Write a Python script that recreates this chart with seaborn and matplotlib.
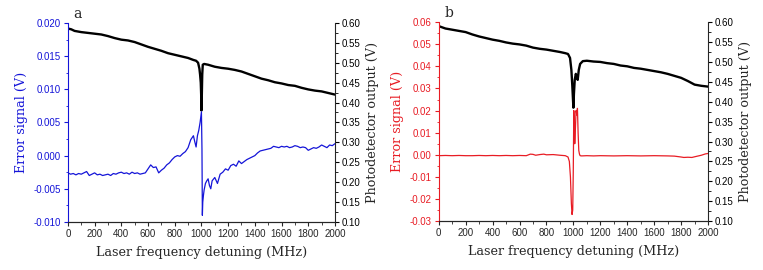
"""
Error signal and photodetector output vs. laser detuning (panels a and b).
"""

import numpy as np
import pandas as pd
import matplotlib
matplotlib.use("Agg")
import matplotlib.pyplot as plt
from matplotlib.ticker import MultipleLocator
import seaborn as sns

# --- panel a: error signal (V) ---
err_a_x = [0, 20, 40, 60, 80, 100, 120, 140, 160, 180, 200, 220, 240, 260, 280,
           300, 320, 340, 360, 380, 400, 420, 440, 460, 480, 500, 520, 540, 560,
           580, 600, 620, 640, 660, 680, 700, 720, 740, 760, 780, 800, 820, 840,
           860, 880, 900, 920, 940, 950, 960, 970, 980, 990, 1000, 1004, 1007,
           1010, 1015, 1020, 1030, 1040, 1050, 1060, 1070, 1080, 1100, 1120, 1140,
           1160, 1180, 1200, 1220, 1240, 1260, 1280, 1300, 1320, 1340, 1360, 1380,
           1400, 1420, 1440, 1460, 1480, 1500, 1520, 1540, 1560, 1580, 1600, 1620,
           1640, 1660, 1680, 1700, 1720, 1740, 1760, 1780, 1800, 1820, 1840, 1860,
           1880, 1900, 1920, 1940, 1960, 1980, 2000]
err_a_y = [-0.0026, -0.0028, -0.0027, -0.0029, -0.0027, -0.0028, -0.0026, -0.0024,
           -0.0030, -0.0028, -0.0026, -0.0029, -0.0028, -0.0030, -0.0029, -0.0028,
           -0.0030, -0.0027, -0.0028, -0.0026, -0.0025, -0.0027, -0.0026, -0.0028,
           -0.0025, -0.0027, -0.0026, -0.0028, -0.0027, -0.0026, -0.0020, -0.0014,
           -0.0018, -0.0017, -0.0026, -0.0022, -0.0019, -0.0014, -0.0011, -0.0006,
           -0.0002, 0.0000, -0.0001, 0.0003, 0.0006, 0.0012, 0.0024, 0.0030,
           0.0021, 0.0013, 0.0030, 0.0038, 0.0050, 0.0066, 0.0010, -0.0090,
           -0.0070, -0.0060, -0.0052, -0.0042, -0.0038, -0.0035, -0.0045, -0.0050,
           -0.0038, -0.0033, -0.0042, -0.0028, -0.0025, -0.0020, -0.0022, -0.0015,
           -0.0013, -0.0016, -0.0008, -0.0012, -0.0009, -0.0006, -0.0004, -0.0002,
           0.0000, 0.0004, 0.0007, 0.0008, 0.0009, 0.0010, 0.0011, 0.0014, 0.0013,
           0.0012, 0.0014, 0.0013, 0.0014, 0.0012, 0.0013, 0.0015, 0.0014, 0.0012,
           0.0013, 0.0012, 0.0008, 0.0010, 0.0012, 0.0011, 0.0013, 0.0016, 0.0014,
           0.0012, 0.0016, 0.0015, 0.0018]

# --- panel a: photodetector output (V) ---
pd_a_x = [0, 25, 50, 100, 150, 200, 250, 300, 350, 400, 450, 500, 550, 600, 650,
          700, 750, 800, 850, 900, 940, 960, 975, 985, 990, 995, 998, 1000, 1003,
          1006, 1010, 1020, 1050, 1100, 1150, 1200, 1250, 1300, 1350, 1400, 1450,
          1500, 1550, 1600, 1650, 1700, 1750, 1800, 1850, 1900, 1950, 2000]
pd_a_y = [0.586, 0.584, 0.580, 0.577, 0.575, 0.573, 0.571, 0.567, 0.562, 0.558,
          0.556, 0.552, 0.546, 0.540, 0.535, 0.530, 0.524, 0.520, 0.516, 0.512,
          0.507, 0.505, 0.500, 0.485, 0.470, 0.450, 0.420, 0.380, 0.420, 0.470,
          0.495, 0.497, 0.495, 0.490, 0.487, 0.485, 0.482, 0.478, 0.472, 0.466,
          0.460, 0.456, 0.451, 0.448, 0.444, 0.442, 0.437, 0.433, 0.430, 0.428,
          0.424, 0.420]

# --- panel b: error signal (V) ---
err_b_x = [0, 50, 100, 150, 200, 250, 300, 350, 400, 450, 500, 550, 600, 650, 680,
           700, 720, 750, 780, 800, 850, 900, 940, 960, 970, 978, 985, 990, 995,
           999, 1003, 1006, 1010, 1015, 1020, 1025, 1030, 1035, 1040, 1045, 1050,
           1060, 1100, 1150, 1200, 1300, 1400, 1500, 1600, 1700, 1750, 1800, 1820,
           1850, 1880, 1900, 1950, 1980, 2000]
err_b_y = [-0.0004, -0.0003, -0.0004, -0.0003, -0.0004, -0.0004, -0.0003, -0.0004,
           -0.0003, -0.0004, -0.0003, -0.0004, -0.0003, -0.0004, 0.0003, 0.0002,
           -0.0002, 0.0001, 0.0003, 0.0000, 0.0001, -0.0002, -0.0004, -0.0010,
           -0.0030, -0.0100, -0.0220, -0.0270, -0.0250, -0.0080, 0.0200, 0.0150,
           0.0050, 0.0120, 0.0200, 0.0180, 0.0210, 0.0100, 0.0020, 0.0003, -0.0004,
           -0.0005, -0.0004, -0.0005, -0.0004, -0.0005, -0.0004, -0.0005, -0.0004,
           -0.0005, -0.0006, -0.0010, -0.0012, -0.0011, -0.0012, -0.0009, -0.0002,
           0.0004, 0.0006]

# --- panel b: photodetector output (V) ---
pd_b_x = [0, 25, 50, 100, 150, 200, 250, 300, 350, 400, 450, 500, 550, 600, 650,
          700, 750, 800, 850, 900, 940, 960, 975, 985, 992, 997, 1000, 1004, 1010,
          1018, 1025, 1032, 1040, 1050, 1070, 1100, 1150, 1200, 1250, 1300, 1350,
          1400, 1450, 1500, 1550, 1600, 1650, 1700, 1750, 1800, 1850, 1900, 1950,
          2000]
pd_b_y = [0.590, 0.587, 0.584, 0.581, 0.578, 0.575, 0.569, 0.564, 0.560, 0.556,
          0.553, 0.549, 0.546, 0.544, 0.541, 0.536, 0.533, 0.531, 0.528, 0.525,
          0.522, 0.520, 0.510, 0.480, 0.440, 0.405, 0.385, 0.420, 0.455, 0.470,
          0.462, 0.455, 0.480, 0.495, 0.502, 0.503, 0.501, 0.500, 0.497, 0.495,
          0.491, 0.489, 0.485, 0.483, 0.480, 0.477, 0.474, 0.470, 0.465, 0.460,
          0.452, 0.443, 0.440, 0.438]

SERIF = "DejaVu Serif"
SANS = "Liberation Sans"
LABEL_SIZE = 9.2


def draw_panel(fig, rect, ex, ey, px, py, color, ylim, ystep, yminor, fmt, letter):
    ax = fig.add_axes(rect)
    ax2 = ax.twinx()

    sns.lineplot(x=px, y=py, ax=ax2, color="black", linewidth=1.7, sort=False)
    sns.lineplot(x=ex, y=ey, ax=ax, color=color, linewidth=0.9, sort=False)
    ax.set_zorder(ax2.get_zorder() + 1)
    ax.patch.set_visible(False)

    ax.set_xlim(0, 2000)
    ax.set_ylim(*ylim)
    ax2.set_ylim(0.10, 0.60)
    ax.xaxis.set_major_locator(MultipleLocator(200))
    ax.xaxis.set_minor_locator(MultipleLocator(100))
    ax.yaxis.set_major_locator(MultipleLocator(ystep))
    ax.yaxis.set_minor_locator(MultipleLocator(yminor))
    ax2.yaxis.set_major_locator(MultipleLocator(0.05))
    ax2.yaxis.set_minor_locator(MultipleLocator(0.025))
    ax.yaxis.set_major_formatter(plt.FormatStrFormatter(fmt))
    ax2.yaxis.set_major_formatter(plt.FormatStrFormatter("%.2f"))

    for a in (ax, ax2):
        a.spines["top"].set_visible(False)
        a.tick_params(which="major", length=3, width=0.8, labelsize=7, pad=2)
        a.tick_params(which="minor", length=1.8, width=0.6)
        for lab in a.get_xticklabels() + a.get_yticklabels():
            lab.set_family(SANS)
    ax.spines["left"].set_color(color)
    ax.spines["right"].set_visible(False)
    ax2.spines["left"].set_visible(False)
    ax.tick_params(axis="y", which="both", colors=color)
    ax2.tick_params(axis="y", which="both", colors="black")

    ax.set_xlabel("Laser frequency detuning (MHz)", family=SERIF,
                  fontsize=LABEL_SIZE, labelpad=5)
    ax.set_ylabel("Error signal (V)", family=SERIF, fontsize=LABEL_SIZE,
                  color=color, labelpad=4)
    ax2.set_ylabel("Photodetector output (V)", family=SERIF,
                   fontsize=LABEL_SIZE, labelpad=4)
    ax.grid(False)
    ax2.grid(False)
    ax.text(0.02, 1.01, letter, transform=ax.transAxes, family=SERIF, fontsize=10,
            ha="left", va="bottom")
    return ax


def main():
    sns.set_style("ticks")
    plt.rcParams["font.family"] = ["DejaVu Serif"]
    fig = plt.figure(figsize=(7.63, 2.70), dpi=100)

    draw_panel(fig, [0.089, 0.178, 0.350, 0.737], err_a_x, err_a_y, pd_a_x, pd_a_y,
               "#1515d8", (-0.010, 0.020), 0.005, 0.0025, "%.3f", "a")
    draw_panel(fig, [0.575, 0.181, 0.353, 0.737], err_b_x, err_b_y, pd_b_x, pd_b_y,
               "#e81c24", (-0.03, 0.06), 0.01, 0.005, "%.2f", "b")

    fig.savefig("out.png", dpi=100)


if __name__ == "__main__":
    main()
